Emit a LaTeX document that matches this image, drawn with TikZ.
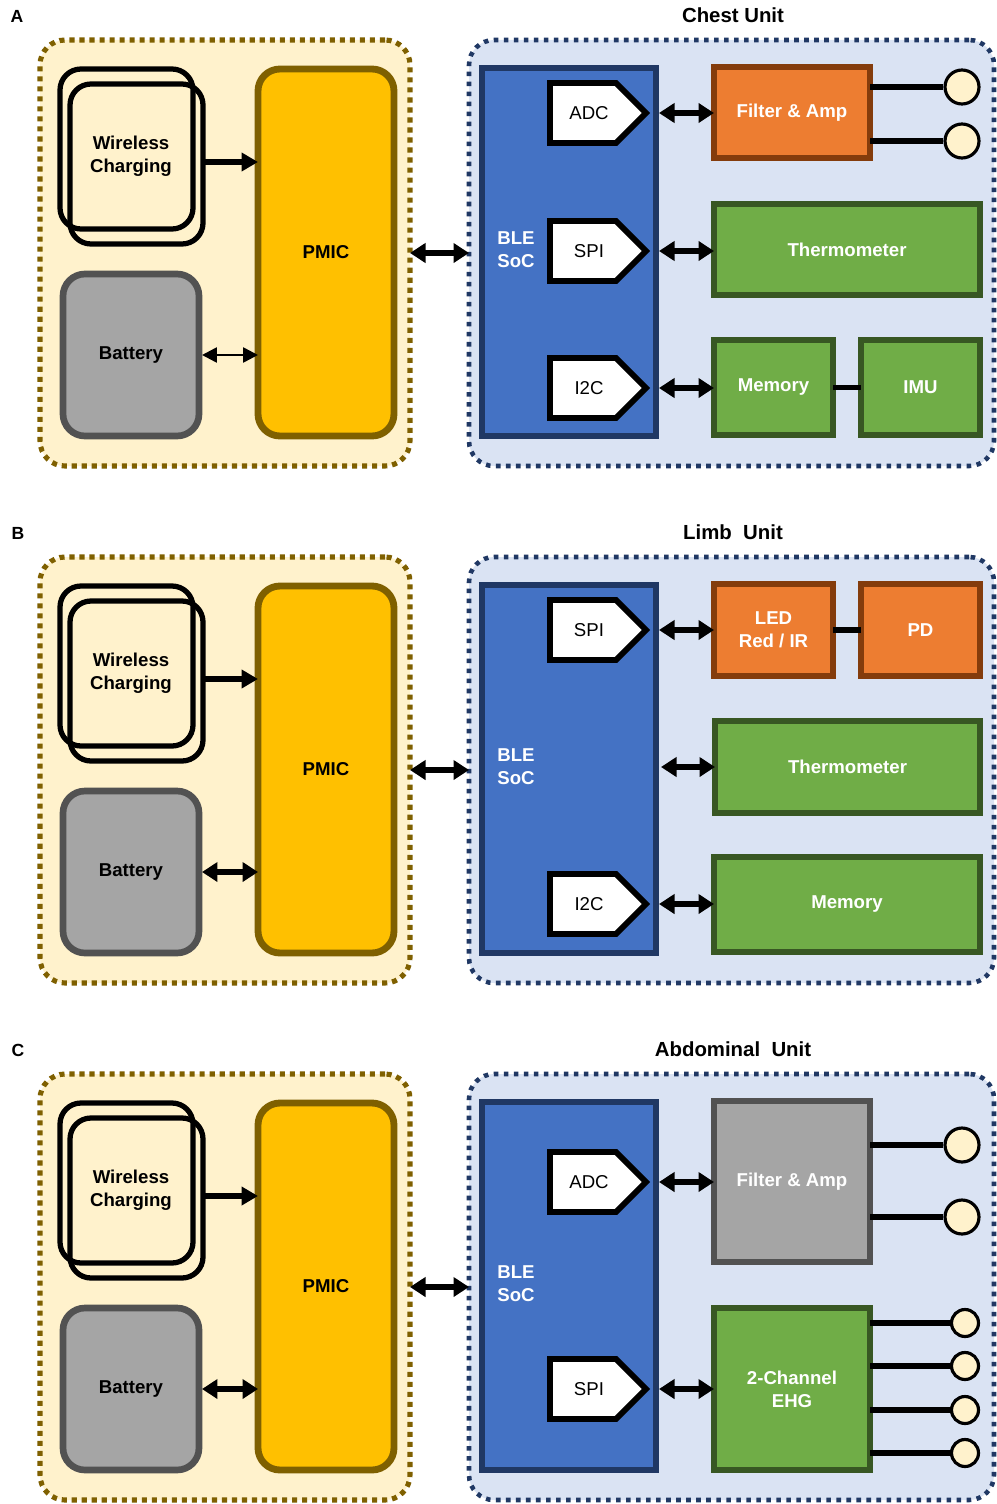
\documentclass[tikz,border=0pt]{standalone}
\usepackage{fontspec}
\setmainfont{Liberation Sans}
\usetikzlibrary{arrows.meta}
\definecolor{lyel}{HTML}{FFF2CC}
\definecolor{dbrown}{HTML}{7F6000}
\definecolor{pmicfill}{HTML}{FFC000}
\definecolor{lblue}{HTML}{DAE3F3}
\definecolor{navy}{HTML}{203864}
\definecolor{blefill}{HTML}{4472C4}
\definecolor{orfill}{HTML}{ED7D31}
\definecolor{ordraw}{HTML}{843C0C}
\definecolor{grfill}{HTML}{70AD47}
\definecolor{grdraw}{HTML}{385723}
\definecolor{gyfill}{HTML}{A5A5A5}
\definecolor{gydraw}{HTML}{525252}
\newcommand{\fs}{\fontsize{10.6}{13}\selectfont}
% box node from outer edges
\newcommand{\bx}[7][]{\node[#1, minimum width={(#5-#3-6)*0.02cm}, minimum height={(#6-#4-6)*0.02cm}] (#2) at ({(#3+#5)/2},{(#4+#6)/2}) {#7};}
% port pentagon: name, y centre, text
\newcommand{\port}[3]{%
  \draw[portshape] (550,#2-30) -- (616,#2-30) -- (646,#2) -- (616,#2+30) -- (550,#2+30) -- cycle;
  \node[porttext] (#1) at (589,#2) {#3};
  \coordinate (#1tip) at (646,#2);}
\newcommand{\leftpanel}[3]{%
  \begin{scope}[shift={(0,#3)}]
  \bx[lcont]{L#1}{37}{37}{413}{469}{}
  \bx[rcont]{R#1}{466}{37}{997}{469}{}
  \bx[wcbox]{wcb#1}{57}{66}{196}{232}{}
  \bx[wcbox]{wc#1}{67}{81}{206}{247}{}
  \node[btxt] (wct#1) at (131,156) {Wireless\\Charging};
  \bx[batt]{bat#1}{60}{271}{202}{439}{Battery}
  \bx[pmic]{pmic#1}{255}{66}{397}{439}{PMIC}
  \bx[ble]{ble#1}{479}{65}{659}{439}{}
  \node[wtxt] (blet#1) at (516,250) {BLE\\SoC};
  \draw[sgl] (wc#1.east |- 0,162) -- (pmic#1.west |- 0,162);
  \draw[#2, shorten <=0.06cm] (bat#1.east) -- (bat#1.east -| pmic#1.west);
  \draw[dbl] (L#1.east) -- (R#1.west);
  \end{scope}}
\begin{document}
\begin{tikzpicture}[x=0.02cm,y=-0.02cm,
  base/.style={inner sep=0pt, outer sep=0pt, align=center, font=\fs\bfseries},
  lcont/.style={base, rounded corners=0.5cm, fill=lyel, draw=dbrown, line width=2.9pt, dash pattern=on 2.9pt off 2.8pt},
  rcont/.style={base, rounded corners=0.5cm, fill=lblue, draw=navy, line width=2.6pt, dash pattern=on 2.6pt off 3.1pt},
  wcbox/.style={base, draw=black, line width=3pt, rounded corners=0.42cm},
  batt/.style={base, fill=gyfill, draw=gydraw, line width=3.8pt, rounded corners=0.44cm},
  pmic/.style={base, fill=pmicfill, draw=dbrown, line width=3.9pt, rounded corners=0.44cm},
  ble/.style={base, fill=blefill, draw=navy, line width=3.9pt},
  orb/.style={base, fill=orfill, draw=ordraw, line width=3.9pt, text=white},
  grb/.style={base, fill=grfill, draw=grdraw, line width=3.9pt, text=white},
  gyb/.style={base, fill=gyfill, draw=gydraw, line width=3.9pt, text=white},
  btxt/.style={base},
  wtxt/.style={base, text=white},
  portshape/.style={fill=white, draw=black, line width=3.3pt, line join=miter},
  porttext/.style={inner sep=0pt, font=\fs},
  elec/.style={circle, fill=lyel, draw=black, line width=1.8pt, minimum size=0.68cm, inner sep=0pt},
  elecs/.style={elec, minimum size=0.54cm},
  wire/.style={line width=2.9pt},
  dbl/.style={line width=2.9pt, {Triangle[length=0.31cm,width=0.38cm]}-{Triangle[length=0.31cm,width=0.38cm]}},
  sgl/.style={line width=3.1pt, -{Triangle[length=0.33cm,width=0.36cm]}},
  thinarr/.style={line width=1.5pt, {Triangle[length=0.3cm,width=0.3cm]}-{Triangle[length=0.3cm,width=0.3cm]}},
  plabel/.style={inner sep=0pt, font=\fontsize{10}{12}\selectfont\bfseries},
  title/.style={inner sep=0pt, font=\fontsize{11.6}{14}\selectfont\bfseries},
  perarr/.style={dbl, shorten <=0.26cm}
]
\useasboundingbox (0,0) rectangle (997,1504);
\fill[white] (0,0) rectangle (997,1504);

% ---------------- Panel A ----------------
\node[plabel] (labA) at (17,16) {A};
\node[title] (titA) at (733,15) {Chest Unit};
\leftpanel{A}{thinarr}{0}
\port{adcA}{113}{ADC}
\port{spiA}{251}{SPI}
\port{iicA}{388}{I2C}
\bx[orb]{filtA}{711}{64}{873}{161}{Filter \& Amp}
\bx[grb]{thermA}{711}{201}{983}{298}{Thermometer}
\bx[grb]{memA}{711}{337}{836}{438}{Memory}
\bx[grb]{imuA}{858}{337}{983}{438}{IMU}
\node[elec] (e1A) at (962,87) {};
\node[elec] (e2A) at (962,141) {};
\draw[wire] (filtA.east |- e1A) -- (e1A);
\draw[wire] (filtA.east |- e2A) -- (e2A);
\draw[wire] (memA) -- (imuA);
\draw[perarr] (adcAtip) -- (adcAtip -| filtA.west);
\draw[perarr] (spiAtip) -- (spiAtip -| thermA.west);
\draw[perarr] (iicAtip) -- (iicAtip -| memA.west);

% ---------------- Panel B ----------------
\node[plabel] (labB) at (18,533) {B};
\node[title] (titB) at (733,532) {Limb\ \ Unit};
\leftpanel{B}{dbl}{517}
\port{spiB}{630}{SPI}
\port{iicB}{904}{I2C}
\bx[orb]{ledB}{711}{581}{836}{679}{LED\\Red / IR}
\bx[orb]{pdB}{858}{581}{983}{679}{PD}
\bx[grb]{thermB}{712}{718}{983}{816}{Thermometer}
\bx[grb]{memB}{711}{854}{983}{955}{Memory}
\draw[wire] (ledB) -- (pdB);
\draw[perarr] (spiBtip) -- (spiBtip -| ledB.west);
\draw[dbl, shorten <=0.1cm] (bleB.east |- thermB) -- (thermB.west);
\draw[perarr] (iicBtip) -- (iicBtip -| memB.west);

% ---------------- Panel C ----------------
\node[plabel] (labC) at (18,1050) {C};
\node[title] (titC) at (733,1049) {Abdominal\ \ Unit};
\leftpanel{C}{dbl}{1034}
\port{adcC}{1182}{ADC}
\port{spiC}{1389}{SPI}
\bx[gyb]{filtC}{711}{1098}{873}{1265}{Filter \& Amp}
\bx[grb]{ehgC}{711}{1305}{873}{1473}{2-Channel\\EHG}
\node[elec] (e1C) at (962,1145) {};
\node[elec] (e2C) at (962,1217) {};
\node[elecs] (e3C) at (965,1323) {};
\node[elecs] (e4C) at (965,1366) {};
\node[elecs] (e5C) at (965,1410) {};
\node[elecs] (e6C) at (965,1453) {};
\draw[wire] (filtC.east |- e1C) -- (e1C);
\draw[wire] (filtC.east |- e2C) -- (e2C);
\draw[wire] (ehgC.east |- e3C) -- (e3C);
\draw[wire] (ehgC.east |- e4C) -- (e4C);
\draw[wire] (ehgC.east |- e5C) -- (e5C);
\draw[wire] (ehgC.east |- e6C) -- (e6C);
\draw[perarr] (adcCtip) -- (adcCtip -| filtC.west);
\draw[perarr] (spiCtip) -- (spiCtip -| ehgC.west);
\end{tikzpicture}
\end{document}
